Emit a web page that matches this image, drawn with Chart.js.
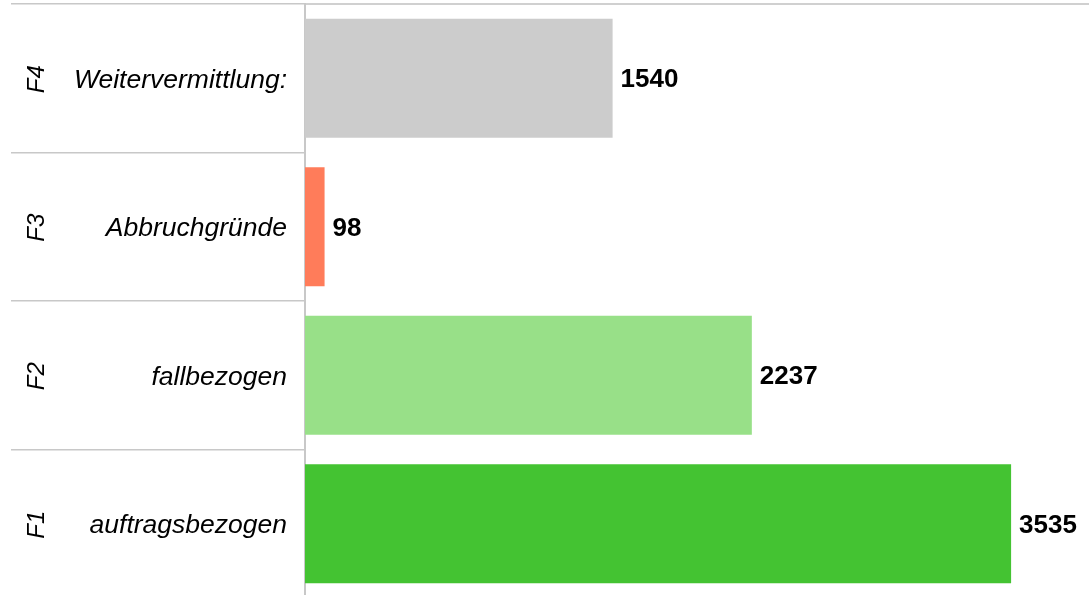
<!DOCTYPE html>
<html>
<head>
<meta charset="utf-8">
<script src="https://cdn.jsdelivr.net/npm/chart.js@4/dist/chart.umd.min.js"></script>
<style>
  html, body { margin: 0; padding: 0; background: #fff; overflow: hidden; }
  canvas { display: block; }
</style>
</head>
<body>
<canvas id="myChart" width="1089" height="600"></canvas>
<script>
// bottom to top
const codes = ['F1', 'F2', 'F3', 'F4'];
const names = ['auftragsbezogen', 'fallbezogen', 'Abbruchgründe', 'Weitervermittlung:'];
const counts = [3535, 2237, 98, 1540];
const barColors = ['#44c332', '#98e088', '#ff7c5a', '#cccccc'];

const FONT = '"Liberation Sans", Arial, sans-serif';

// two-level category labels + value labels
const labelPlugin = {
    id: 'labels',
    afterDraw(chart) {
        const ctx = chart.ctx;
        const yScale = chart.scales.y;
        const meta = chart.getDatasetMeta(0);
        ctx.save();
        ctx.fillStyle = '#000';
        ctx.textBaseline = 'middle';
        codes.forEach((code, i) => {
            const y = yScale.getPixelForValue(i);
            // rotated code
            ctx.save();
            ctx.translate(37, y + 1);
            ctx.rotate(-Math.PI / 2);
            ctx.textAlign = 'center';
            ctx.font = 'italic 24px ' + FONT;
            ctx.fillText(code, 0, 0);
            ctx.restore();
            // name
            ctx.textAlign = 'right';
            ctx.font = 'italic 26.5px ' + FONT;
            ctx.fillText(names[i], 287, y + 2);
            // value
            const bar = meta.data[i];
            ctx.textAlign = 'left';
            ctx.font = 'bold 26px ' + FONT;
            ctx.fillText(String(counts[i]), bar.x + 8, y + 2);
        });
        ctx.restore();
    }
};

new Chart(document.getElementById('myChart').getContext('2d'), {
    type: 'bar',
    data: {
        labels: codes,
        datasets: [{
            data: counts,
            backgroundColor: barColors,
            borderWidth: 0,
            barPercentage: 0.8,
            categoryPercentage: 1.0
        }]
    },
    options: {
        indexAxis: 'y',
        responsive: false,
        animation: false,
        devicePixelRatio: 1,
        layout: { padding: { top: 4, bottom: 2, left: 0, right: 0 } },
        plugins: {
            legend: { display: false },
            tooltip: { enabled: false }
        },
        scales: {
            x: {
                position: 'top',
                min: 0,
                max: 3925,
                ticks: { display: false },
                grid: { display: false },
                border: { display: true, color: '#d0d0d0', width: 2 },
                afterFit(scale) { scale.height = 0; }
            },
            y: {
                reverse: true,
                ticks: { display: false },
                grid: {
                    offset: true,
                    drawOnChartArea: false,
                    drawTicks: true,
                    tickLength: 294,
                    color: '#c8c8c8',
                    lineWidth: 1.5
                },
                border: { display: true, color: '#c8c8c8', width: 2 },
                afterFit(scale) { scale.width = 305; }
            }
        }
    },
    plugins: [labelPlugin]
});
</script>
</body>
</html>
